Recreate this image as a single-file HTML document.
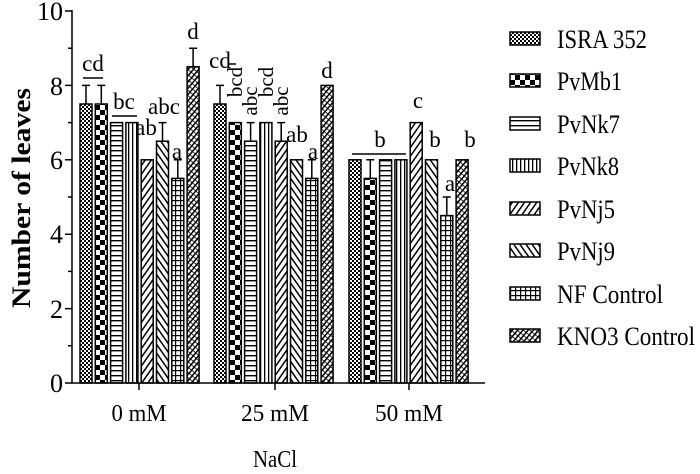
<!DOCTYPE html>
<html><head><style>body{margin:0;background:#fff}svg{display:block}text{font-family:"Liberation Serif",serif;fill:#000}</style></head><body>
<svg width="700" height="474" viewBox="0 0 700 474" xmlns="http://www.w3.org/2000/svg">
<defs>
<pattern id="p1" width="4" height="4" patternUnits="userSpaceOnUse"><rect width="4" height="4" fill="#fff"/><rect width="2" height="2" fill="#000"/><rect x="2" y="2" width="2" height="2" fill="#000"/></pattern>
<pattern id="p2" width="10" height="10" patternUnits="userSpaceOnUse"><rect width="10" height="10" fill="#fff"/><rect width="5" height="5" fill="#000"/><rect x="5" y="5" width="5" height="5" fill="#000"/></pattern>
<pattern id="p3" width="6" height="5" patternUnits="userSpaceOnUse"><rect width="6" height="5" fill="#fff"/><rect y="0" width="6" height="1.4" fill="#000"/></pattern>
<pattern id="p4" width="4" height="6" patternUnits="userSpaceOnUse"><rect width="4" height="6" fill="#fff"/><rect width="1.3" height="6" fill="#000"/></pattern>
<pattern id="p5" width="5" height="5" patternUnits="userSpaceOnUse" patternTransform="rotate(35)"><rect width="5" height="5" fill="#fff"/><rect width="1.5" height="5" fill="#000"/></pattern>
<pattern id="p6" width="5" height="5" patternUnits="userSpaceOnUse" patternTransform="rotate(-35)"><rect width="5" height="5" fill="#fff"/><rect width="1.5" height="5" fill="#000"/></pattern>
<pattern id="p7" width="5" height="5" patternUnits="userSpaceOnUse"><rect width="5" height="5" fill="#fff"/><rect width="5" height="1.2" fill="#000"/><rect width="1.2" height="5" fill="#000"/></pattern>
<pattern id="p8" width="4" height="4" patternUnits="userSpaceOnUse" patternTransform="rotate(40)"><rect width="4" height="4" fill="#fff"/><rect width="1.5" height="4" fill="#000"/><rect y="0" width="4" height="0.8" fill="#000"/></pattern>
</defs>
<g stroke="#000" stroke-width="1.5">
<rect x="80" y="104" width="12" height="279" fill="url(#p1)"/>
<rect x="95.3" y="104" width="12" height="279" fill="url(#p2)"/>
<rect x="110.6" y="122.6" width="12" height="260.4" fill="url(#p3)"/>
<rect x="125.9" y="122.6" width="12" height="260.4" fill="url(#p4)"/>
<rect x="141.2" y="159.8" width="12" height="223.2" fill="url(#p5)"/>
<rect x="156.5" y="141.2" width="12" height="241.8" fill="url(#p6)"/>
<rect x="171.8" y="178.4" width="12" height="204.6" fill="url(#p7)"/>
<rect x="187.1" y="66.8" width="12" height="316.2" fill="url(#p8)"/>
<rect x="214" y="104" width="12" height="279" fill="url(#p1)"/>
<rect x="229.3" y="122.6" width="12" height="260.4" fill="url(#p2)"/>
<rect x="244.6" y="141.2" width="12" height="241.8" fill="url(#p3)"/>
<rect x="259.9" y="122.6" width="12" height="260.4" fill="url(#p4)"/>
<rect x="275.2" y="141.2" width="12" height="241.8" fill="url(#p5)"/>
<rect x="290.5" y="159.8" width="12" height="223.2" fill="url(#p6)"/>
<rect x="305.8" y="178.4" width="12" height="204.6" fill="url(#p7)"/>
<rect x="321.1" y="85.4" width="12" height="297.6" fill="url(#p8)"/>
<rect x="349" y="159.8" width="12" height="223.2" fill="url(#p1)"/>
<rect x="364.3" y="178.4" width="12" height="204.6" fill="url(#p2)"/>
<rect x="379.6" y="159.8" width="12" height="223.2" fill="url(#p3)"/>
<rect x="394.9" y="159.8" width="12" height="223.2" fill="url(#p4)"/>
<rect x="410.2" y="122.6" width="12" height="260.4" fill="url(#p5)"/>
<rect x="425.5" y="159.8" width="12" height="223.2" fill="url(#p6)"/>
<rect x="440.8" y="215.6" width="12" height="167.4" fill="url(#p7)"/>
<rect x="456.1" y="159.8" width="12" height="223.2" fill="url(#p8)"/>
</g>
<g stroke="#000" stroke-width="1.5" fill="none">
<path d="M86 104V85.4M82 85.4H90"/>
<path d="M101.3 104V85.4M97.3 85.4H105.3"/>
<path d="M162.5 141.2V122.6M158.5 122.6H166.5"/>
<path d="M177.8 178.4V159.8M173.8 159.8H181.8"/>
<path d="M193.1 66.8V48.2M189.1 48.2H197.1"/>
<path d="M220 104V85.4M216 85.4H224"/>
<path d="M250.6 141.2V122.6M246.6 122.6H254.6"/>
<path d="M281.2 141.2V122.6M277.2 122.6H285.2"/>
<path d="M311.8 178.4V159.8M307.8 159.8H315.8"/>
<path d="M370.3 178.4V159.8M366.3 159.8H374.3"/>
<path d="M446.8 215.6V197M442.8 197H450.8"/>
<path d="M83 78H103M112 116H137M352 154H406M229 64H236"/>
<path d="M72 10V383H485"/>
<path d="M65 11H72M68 48.2H72M65 85.4H72M68 122.6H72M65 159.8H72M68 197H72M65 234.2H72M68 271.4H72M65 308.6H72M68 345.8H72M65 383H72"/>
<path d="M139 383V390M275 383V390M409 383V390"/>
</g>
<g font-size="26" text-anchor="end">
<text x="63" y="20" textLength="26" lengthAdjust="spacingAndGlyphs">10</text><text x="63" y="95">8</text><text x="63" y="169">6</text><text x="63" y="243">4</text><text x="63" y="318">2</text><text x="63" y="392">0</text>
</g>
<text transform="translate(30,198) rotate(-90)" font-size="26" font-weight="bold" text-anchor="middle" textLength="220" lengthAdjust="spacingAndGlyphs">Number of leaves</text>
<g font-size="24" text-anchor="middle">
<text x="139" y="421" textLength="55" lengthAdjust="spacingAndGlyphs">0 mM</text><text x="275" y="421" textLength="68" lengthAdjust="spacingAndGlyphs">25 mM</text><text x="409" y="421" textLength="68" lengthAdjust="spacingAndGlyphs">50 mM</text>
<text x="275" y="467" textLength="44" lengthAdjust="spacingAndGlyphs">NaCl</text>
</g>
<g font-size="23" text-anchor="middle">
<text x="93" y="71">cd</text>
<text x="124" y="109">bc</text>
<text x="146" y="135">ab</text>
<text x="164" y="114">abc</text>
<text x="177" y="159">a</text>
<text x="193" y="39">d</text>
<text x="220" y="68">cd</text>
<text x="297" y="142">ab</text>
<text x="313" y="159">a</text>
<text x="327" y="78">d</text>
<text x="380" y="147">b</text>
<text x="418" y="108">c</text>
<text x="435" y="147">b</text>
<text x="450" y="191">a</text>
<text x="470" y="147">b</text>
</g>
<g font-size="21" text-anchor="middle">
<text transform="translate(242,82) rotate(-90)">bcd</text>
<text transform="translate(257,101) rotate(-90)">abc</text>
<text transform="translate(273,82) rotate(-90)">bcd</text>
<text transform="translate(288,101) rotate(-90)">abc</text>
</g>
<g stroke="#000" stroke-width="1.5">
<rect x="510" y="32" width="30" height="13" fill="url(#p1)"/>
<rect x="510" y="74" width="30" height="13" fill="url(#p2)"/>
<rect x="510" y="117" width="30" height="13" fill="url(#p3)"/>
<rect x="510" y="159" width="30" height="13" fill="url(#p4)"/>
<rect x="510" y="202" width="30" height="13" fill="url(#p5)"/>
<rect x="510" y="244" width="30" height="13" fill="url(#p6)"/>
<rect x="510" y="287" width="30" height="13" fill="url(#p7)"/>
<rect x="510" y="329" width="30" height="13" fill="url(#p8)"/>
</g>
<g font-size="26">
<text x="557" y="48" textLength="90" lengthAdjust="spacingAndGlyphs">ISRA 352</text>
<text x="557" y="90" textLength="65" lengthAdjust="spacingAndGlyphs">PvMb1</text>
<text x="557" y="133" textLength="63" lengthAdjust="spacingAndGlyphs">PvNk7</text>
<text x="557" y="175" textLength="62" lengthAdjust="spacingAndGlyphs">PvNk8</text>
<text x="557" y="218" textLength="58" lengthAdjust="spacingAndGlyphs">PvNj5</text>
<text x="557" y="260" textLength="58" lengthAdjust="spacingAndGlyphs">PvNj9</text>
<text x="557" y="303" textLength="106" lengthAdjust="spacingAndGlyphs">NF Control</text>
<text x="557" y="345" textLength="138" lengthAdjust="spacingAndGlyphs">KNO3 Control</text>
</g>
</svg>
</body></html>
